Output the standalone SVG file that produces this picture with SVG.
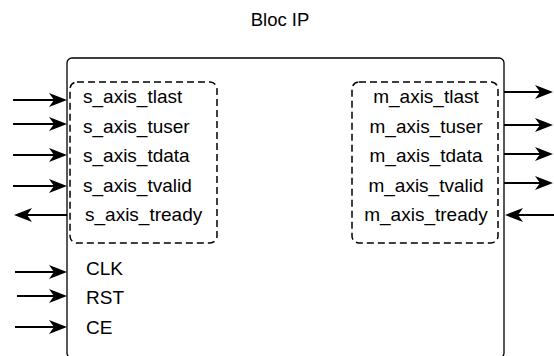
<svg xmlns="http://www.w3.org/2000/svg" width="554" height="356" viewBox="0 0 554 356">
<style>
text{font-family:"Liberation Sans",Arial,sans-serif;font-size:19px;fill:#000}
.box{fill:#fff;stroke:#000;stroke-width:1.3}
.dash{fill:none;stroke:#000;stroke-width:1.5;stroke-dasharray:7 4}
.w{stroke:#000;stroke-width:1.8;fill:none;marker-end:url(#a)}
</style>
<defs>
<marker id="a" markerWidth="19" markerHeight="15" viewBox="0 0 19 15" refX="5" refY="7.5" orient="auto" markerUnits="userSpaceOnUse">
<path d="M0,0.5 L18,7.5 L0,14.5 L5,7.5 Z" fill="#000"/>
</marker>
</defs>
<text x="280" y="26" text-anchor="middle" style="font-size:18.5px">Bloc IP</text>
<g id="bloc-ip">
<rect class="box" x="67" y="58" width="437" height="300" rx="5"/>
</g>
<g id="slave-port">
<rect class="dash" x="70" y="82" width="147" height="161" rx="7"/>
<text x="83" y="103">s_axis_tlast</text>
<text x="83" y="133">s_axis_tuser</text>
<text x="83" y="162">s_axis_tdata</text>
<text x="83" y="192">s_axis_tvalid</text>
<text x="85" y="221">s_axis_tready</text>
</g>
<g id="master-port">
<rect class="dash" x="352" y="82" width="146" height="161" rx="7"/>
<g text-anchor="middle">
<text x="426" y="103">m_axis_tlast</text>
<text x="426" y="133">m_axis_tuser</text>
<text x="426" y="162">m_axis_tdata</text>
<text x="426" y="192">m_axis_tvalid</text>
<text x="426" y="221">m_axis_tready</text>
</g>
</g>
<g id="control">
<text x="86" y="275">CLK</text>
<text x="86" y="304">RST</text>
<text x="86" y="334">CE</text>
</g>
<g id="connectors">
<path class="w" d="M13,100 H54"/>
<path class="w" d="M13,124 H54"/>
<path class="w" d="M13,155 H54"/>
<path class="w" d="M13,186 H54"/>
<path class="w" d="M67,215 H27"/>
<path class="w" d="M15,272 H54"/>
<path class="w" d="M17,296 H54"/>
<path class="w" d="M15,327 H54"/>
<path class="w" d="M504,92 H540"/>
<path class="w" d="M504,125 H540"/>
<path class="w" d="M504,154 H540"/>
<path class="w" d="M504,183 H540"/>
<path class="w" d="M554,215 H518"/>
</g>
</svg>
